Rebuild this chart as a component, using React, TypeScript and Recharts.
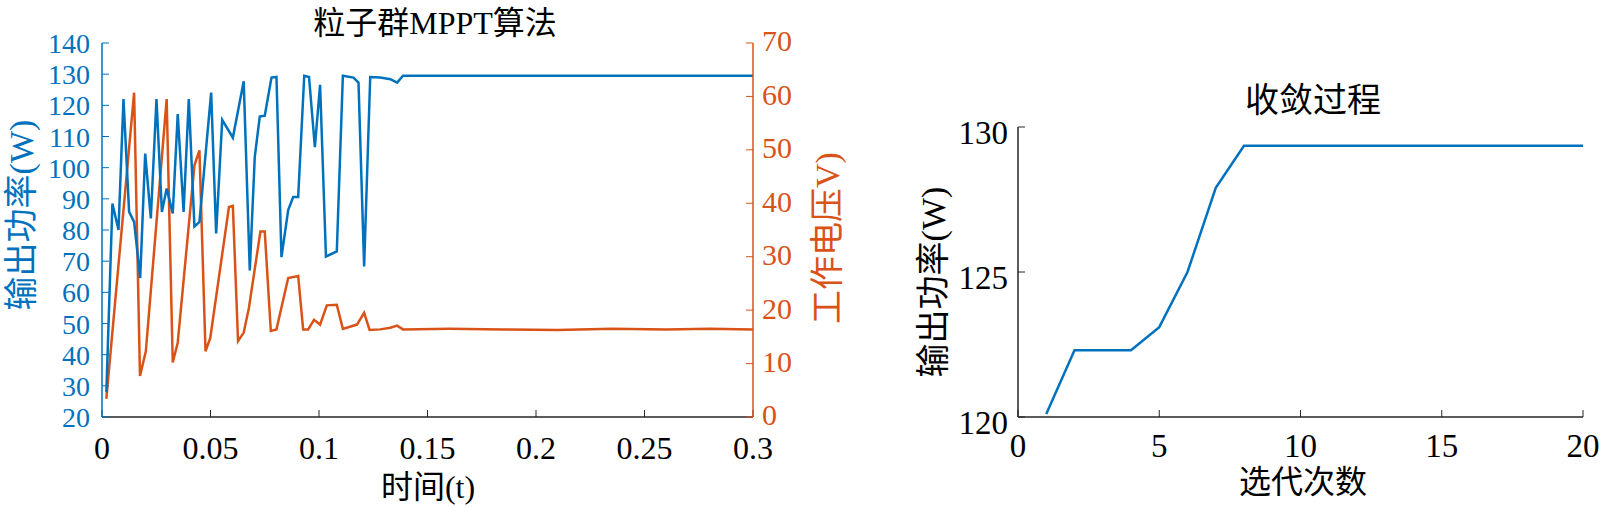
import { LineChart, Line, XAxis, YAxis } from "recharts";

// left panel: PSO MPPT trace
const powerTime = [
  0.002, 0.0048, 0.0076, 0.0099, 0.0125, 0.0148, 0.0176, 0.0199, 0.0225, 0.0251,
  0.0276, 0.0298, 0.0326, 0.0349, 0.0376, 0.04, 0.0426, 0.0449, 0.0503, 0.0526,
  0.0554, 0.0603, 0.0653, 0.0681, 0.0704, 0.0727, 0.075, 0.0781, 0.0804, 0.0827,
  0.0858, 0.0881, 0.0904, 0.0932, 0.0954, 0.0981, 0.1005, 0.1032, 0.1082, 0.111,
  0.1159, 0.1182, 0.1208, 0.1236, 0.1282, 0.1329, 0.136, 0.1387, 0.2, 0.3,
];
const powerWatts = [
  27.9, 88.5, 80.0, 122.0, 85.8, 82.6, 64.6, 104.5, 83.7, 122.0,
  85.8, 93.3, 85.3, 117.2, 85.8, 122.0, 81.1, 82.6, 124.1, 78.9,
  115.3, 109.6, 127.7, 67.0, 103.4, 116.4, 116.7, 128.9, 129.1, 71.3,
  86.4, 90.6, 90.6, 129.5, 129.1, 106.6, 126.6, 71.5, 73.1, 129.5,
  128.9, 127.3, 68.3, 129.1, 128.9, 128.4, 127.3, 129.5, 129.5, 129.5,
];
const voltTime = [
  0.002, 0.0148, 0.0175, 0.0202, 0.0298, 0.0326, 0.0349, 0.0426, 0.0449, 0.0477,
  0.0499, 0.0585, 0.0603, 0.0627, 0.0653, 0.0677, 0.073, 0.075, 0.0778, 0.0804,
  0.0858, 0.0904, 0.0927, 0.095, 0.0977, 0.1005, 0.1036, 0.1082, 0.111, 0.1175,
  0.1208, 0.1233, 0.1282, 0.1329, 0.136, 0.1387, 0.16, 0.185, 0.21, 0.235,
  0.26, 0.28, 0.3,
];
const voltValues = [
  3.4, 60.7, 7.7, 12.3, 59.5, 10.2, 13.9, 47.1, 49.9, 12.3,
  14.8, 39.3, 39.5, 14.2, 15.8, 20.4, 34.7, 34.7, 16.1, 16.4,
  26.0, 26.4, 16.4, 16.4, 18.2, 17.3, 20.9, 21.0, 16.5, 17.3,
  19.5, 16.3, 16.4, 16.7, 17.1, 16.4, 16.5, 16.4, 16.3, 16.5,
  16.4, 16.5, 16.4,
];
const timeTicks = [0, 0.05, 0.1, 0.15, 0.2, 0.25, 0.3];
const powerTicks = [20, 30, 40, 50, 60, 70, 80, 90, 100, 110, 120, 130, 140];
const voltTicks = [0, 10, 20, 30, 40, 50, 60, 70];

// right panel: convergence
const iterations = [1, 2, 3, 4, 5, 6, 7, 8, 9, 10, 11, 12, 13, 14, 15, 16, 17, 18, 19, 20];
const bestPower = [
  120.1, 122.3, 122.3, 122.3, 123.1, 125.0, 127.9, 129.35, 129.35, 129.35,
  129.35, 129.35, 129.35, 129.35, 129.35, 129.35, 129.35, 129.35, 129.35, 129.35,
];
const iterTicks = [0, 5, 10, 15, 20];
const bestTicks = [120, 125, 130];

const BLUE = "#0072BD";
const ORANGE = "#D95319";
const INK = "#262626";
const FONT = "'Times New Roman', 'Liberation Serif', 'DejaVu Serif', 'Noto Sans CJK SC', serif";

const powerData = powerTime.map((t, i) => ({ t, p: powerWatts[i] }));
const voltData = voltTime.map((t, i) => ({ t, v: voltValues[i] }));
const convData = iterations.map((n, i) => ({ n, p: bestPower[i] }));

// custom tick so the serif face is actually used
function tickOf(color: string, anchor: "start" | "middle" | "end", size: number, dy: string) {
  return (props: any) => {
    const { x, y, payload } = props;
    return (
      <text x={x} y={y} dy={dy} textAnchor={anchor} fill={color} fontSize={size} style={{ fontFamily: FONT }}>
        {String(payload.value)}
      </text>
    );
  };
}

function VText({ x, y, text, color, size }: { x: number; y: number; text: string; color: string; size: number }) {
  return (
    <text
      x={x}
      y={y}
      transform={`rotate(-90 ${x} ${y})`}
      textAnchor="middle"
      dominantBaseline="central"
      fill={color}
      fontSize={size}
      style={{ fontFamily: FONT }}
    >
      {text}
    </text>
  );
}

export default function App() {
  return (
    <div style={{ position: "fixed", left: 0, top: 0, width: 1600, height: 509, background: "#fff" }}>
      <div style={{ position: "absolute", left: 0, top: 0 }}>
        <LineChart width={900} height={509} margin={{ top: 43, right: 0, bottom: 0, left: 0 }}>
          <XAxis
            type="number"
            dataKey="t"
            domain={[0, 0.3]}
            ticks={timeTicks}
            height={92}
            tickSize={-7}
            tickMargin={26}
            axisLine={{ stroke: INK, strokeWidth: 1.5 }}
            tickLine={{ stroke: INK }}
            tick={tickOf("#000", "middle", 32, "0.71em")}
            allowDataOverflow
          />
          <YAxis
            yAxisId="p"
            domain={[20, 140]}
            ticks={powerTicks}
            width={102}
            tickSize={-7}
            tickMargin={19}
            interval={0}
            axisLine={{ stroke: BLUE, strokeWidth: 1.5 }}
            tickLine={{ stroke: BLUE }}
            tick={tickOf(BLUE, "end", 28, "0.36em")}
          />
          <YAxis
            yAxisId="v"
            orientation="right"
            domain={[0, 70]}
            ticks={voltTicks}
            width={147}
            tickSize={-7}
            tickMargin={16}
            interval={0}
            axisLine={{ stroke: ORANGE, strokeWidth: 1.5 }}
            tickLine={{ stroke: ORANGE }}
            tick={tickOf(ORANGE, "start", 30, "0.28em")}
          />
          <Line
            yAxisId="v"
            data={voltData}
            dataKey="v"
            type="linear"
            stroke={ORANGE}
            strokeWidth={2.5}
            dot={false}
            isAnimationActive={false}
          />
          <Line
            yAxisId="p"
            data={powerData}
            dataKey="p"
            type="linear"
            stroke={BLUE}
            strokeWidth={2.5}
            dot={false}
            isAnimationActive={false}
          />
        </LineChart>
      </div>
      <div style={{ position: "absolute", left: 900, top: 0 }}>
        <LineChart width={700} height={509} data={convData} margin={{ top: 127, right: 17, bottom: 0, left: 0 }}>
          <XAxis
            type="number"
            dataKey="n"
            domain={[0, 20]}
            ticks={iterTicks}
            height={92}
            tickSize={-7}
            tickMargin={24}
            axisLine={{ stroke: INK, strokeWidth: 1.5 }}
            tickLine={{ stroke: INK }}
            tick={tickOf("#000", "middle", 33, "0.71em")}
          />
          <YAxis
            domain={[120, 130]}
            ticks={bestTicks}
            width={118}
            tickSize={-7}
            tickMargin={17}
            axisLine={{ stroke: INK, strokeWidth: 1.5 }}
            tickLine={{ stroke: INK }}
            tick={tickOf("#000", "end", 33, "0.5em")}
          />
          <Line
            dataKey="p"
            type="linear"
            stroke={BLUE}
            strokeWidth={2.5}
            dot={false}
            isAnimationActive={false}
          />
        </LineChart>
      </div>
      <svg
        width={1600}
        height={509}
        style={{ position: "absolute", left: 0, top: 0, pointerEvents: "none" }}
      >
        <text x={435} y={23} textAnchor="middle" dominantBaseline="central" fontSize={32} style={{ fontFamily: FONT }} fill="#000">
          粒子群MPPT算法
        </text>
        <text x={428} y={487} textAnchor="middle" dominantBaseline="central" fontSize={32} style={{ fontFamily: FONT }} fill="#000">
          时间(t)
        </text>
        <VText x={21} y={215} text="输出功率(W)" color={BLUE} size={34} />
        <VText x={827} y={238} text="工作电压V)" color={ORANGE} size={34} />
        <text x={1313} y={100} textAnchor="middle" dominantBaseline="central" fontSize={34} style={{ fontFamily: FONT }} fill="#000">
          收敛过程
        </text>
        <VText x={933} y={282} text="输出功率(W)" color="#000" size={34} />
        <text x={1303} y={482} textAnchor="middle" dominantBaseline="central" fontSize={32} style={{ fontFamily: FONT }} fill="#000">
          选代次数
        </text>
      </svg>
    </div>
  );
}
